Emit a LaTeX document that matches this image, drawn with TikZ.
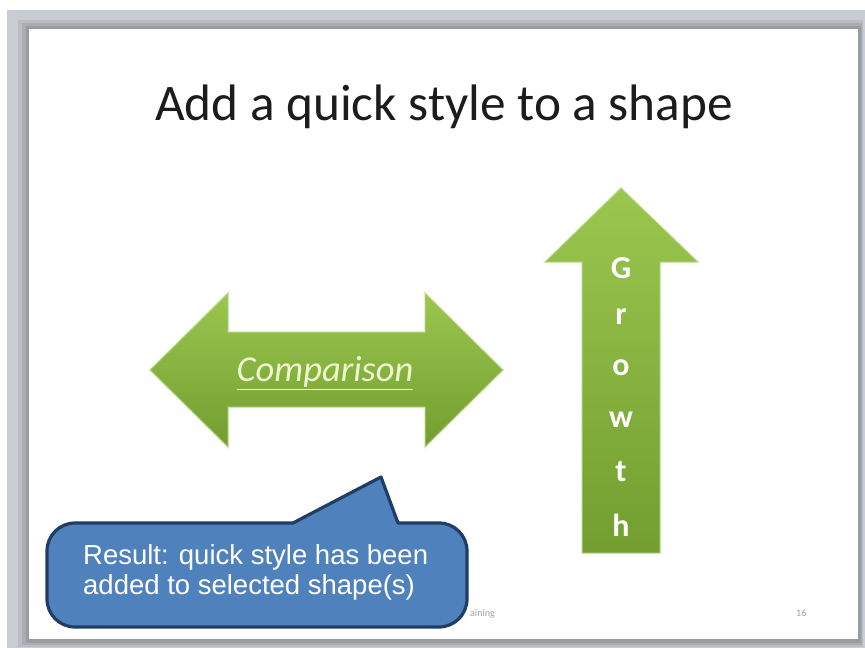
\documentclass[tikz,border=0pt]{standalone}
\usepackage{fontspec}
\setmainfont{Carlito}
\newfontfamily\arialf{Liberation Sans}
\definecolor{framegrey}{HTML}{C9CCD3}
\definecolor{shadA}{HTML}{BABDC2}
\definecolor{shadB}{HTML}{A9ACB0}
\definecolor{shadC}{HTML}{9A9DA0}
\definecolor{greenTop}{HTML}{9BC64F}
\definecolor{greenBot}{HTML}{729E30}
\definecolor{greenEdge}{HTML}{B5D77A}
\definecolor{calloutFill}{HTML}{4F81BD}
\definecolor{calloutLine}{HTML}{203D66}
\definecolor{cmpText}{HTML}{EEF7D0}
\definecolor{titleText}{HTML}{1C1C1C}
\definecolor{footText}{HTML}{A0A0A0}
\tikzset{
  greenarrow/.style={top color=greenTop, bottom color=greenBot, draw=greenEdge, draw opacity=0.55, line width=1.5pt, line join=miter},
  callout/.style={fill=calloutFill, draw=calloutLine, line width=3.2pt, line join=round},
  calltext/.style={anchor=base west, inner sep=0pt, text=white, font=\arialf\fontsize{27.5}{30}\selectfont},
  growthletter/.style={text=white, inner sep=0pt, font=\bfseries\fontsize{32}{34}\selectfont},
  foottext/.style={anchor=base west, inner sep=0pt, text=footText, font=\fontsize{10}{11}\selectfont}
}
\begin{document}
\begin{tikzpicture}[x=1pt,y=-1pt]
\useasboundingbox (0,0) rectangle (865,648);
\fill[white] (0,0) rectangle (865,648);
% frame and slide shadow
\fill[framegrey] (7,10) rectangle (865,648);
\fill[shadA] (18,20) rectangle (863,647);
\fill[shadB] (22,23) rectangle (862,645);
\fill[shadC] (26,26) rectangle (861,643);
\fill[white] (29,29) rectangle (858,639);
% title
\node[text=titleText, font=\fontsize{51.3}{58}\selectfont] (title) at (444,107) {Add a quick style to a shape};
% footer
\node[foottext] (foot) at (470,616) {aining};
\node[foottext] (pagenum) at (796,616) {16};
% double arrow
\path[greenarrow] (150,370) -- (228,293) -- (228,332) -- (425,332) -- (425,293) -- (503,370)
  -- (425,447) -- (425,407) -- (228,407) -- (228,447) -- cycle;
\node[text=cmpText, inner sep=0pt, font=\itshape\fontsize{36.5}{40}\selectfont] (cmp) at (325,373) {\underline{Comparison}};
% up arrow
\path[greenarrow] (621,188) -- (698,262) -- (660,262) -- (660,553) -- (582,553) -- (582,262) -- (545,262) -- cycle;
\node[growthletter] (g1) at (621,268) {G};
\node[growthletter] (g2) at (621,317) {r};
\node[growthletter] (g3) at (621,368) {o};
\node[growthletter] (g4) at (621,420) {w};
\node[growthletter] (g5) at (621,472) {t};
\node[growthletter] (g6) at (621,525) {h};
% callout
\path[callout] (293,523) -- (381,477) -- (398,523)
  {[rounded corners=28] -- (467,523) -- (467,627) -- (47,627) -- (47,523)} -- cycle;
\node[calltext] (cl1) at (83,564) {Result: quick style has been};
\node[calltext] (cl2) at (83,594) {added to selected shape(s)};
\end{tikzpicture}
\end{document}
